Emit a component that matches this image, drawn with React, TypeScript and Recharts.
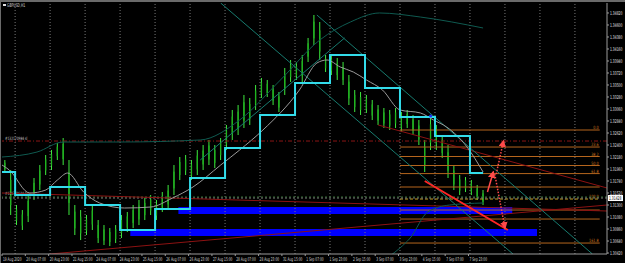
import React from 'react';
import { ComposedChart, Bar, Line, XAxis, YAxis, ReferenceLine, ReferenceArea, ReferenceDot } from 'recharts';

// GBPUSD H1, hours counted from 19 Aug 15:00; one candle per 4 hours
const candleHigh = [
  1.32125, 1.31942, 1.313, 1.31208, 1.31483, 1.31795, 1.32033, 1.32217, 1.32308, 1.32437,
  1.32528, 1.32125, 1.313, 1.31208, 1.31117, 1.313, 1.31025, 1.30933, 1.30878, 1.30933,
  1.31117, 1.31172, 1.313, 1.31392, 1.31428, 1.31483, 1.31392, 1.31538, 1.31667, 1.32033,
  1.3218, 1.32217, 1.32125, 1.32308, 1.324, 1.32492, 1.324, 1.32528, 1.32767, 1.33042,
  1.33133, 1.33317, 1.33262, 1.335, 1.33628, 1.33592, 1.335, 1.33372, 1.33812, 1.33958,
  1.33922, 1.3405, 1.34362, 1.34783, 1.34655, 1.3405, 1.3405, 1.33995, 1.33922, 1.33683,
  1.33408, 1.33372, 1.33317, 1.33225, 1.33133, 1.33078, 1.33042, 1.33078, 1.33005, 1.33042,
  1.3295, 1.32858, 1.32492, 1.32913, 1.32767, 1.32583, 1.324, 1.32033, 1.3185, 1.31813,
  1.31758, 1.31667, 1.31575,
];
const candleLow = [
  1.31905, 1.31117, 1.30933, 1.30842, 1.30988, 1.31392, 1.31575, 1.3185, 1.31942, 1.32125,
  1.32033, 1.31117, 1.3075, 1.30658, 1.3075, 1.30842, 1.30603, 1.30567, 1.30548, 1.30603,
  1.30695, 1.30805, 1.30878, 1.30933, 1.31025, 1.31117, 1.31025, 1.31172, 1.31208, 1.31483,
  1.31758, 1.3185, 1.31758, 1.3185, 1.31942, 1.32033, 1.31978, 1.32125, 1.32308, 1.32492,
  1.32583, 1.32712, 1.32767, 1.33042, 1.33262, 1.3328, 1.33133, 1.33005, 1.33317, 1.33555,
  1.33592, 1.33555, 1.33922, 1.34233, 1.33958, 1.33738, 1.33683, 1.33592, 1.335, 1.33133,
  1.33005, 1.3295, 1.32987, 1.32858, 1.32767, 1.32712, 1.32675, 1.32712, 1.32638, 1.32712,
  1.32583, 1.324, 1.31905, 1.32308, 1.32308, 1.32162, 1.31795, 1.31575, 1.31483, 1.31538,
  1.31483, 1.31392, 1.313,
];

const timeLabels = [
  '19 Aug 2020', '20 Aug 07:00', '20 Aug 23:00', '21 Aug 15:00', '24 Aug 07:00', '24 Aug 23:00',
  '25 Aug 15:00', '26 Aug 07:00', '26 Aug 23:00', '27 Aug 15:00', '28 Aug 07:00', '28 Aug 23:00',
  '31 Aug 15:00', '1 Sep 07:00', '1 Sep 23:00', '2 Sep 15:00', '3 Sep 07:00', '3 Sep 23:00',
  '4 Sep 15:00', '7 Sep 07:00', '7 Sep 23:00',
];
const timeTicks = timeLabels.map((_, i) => i * 16);

const priceTicks = [
  1.3042, 1.3064, 1.3086, 1.3108, 1.313, 1.3152, 1.3174, 1.3196, 1.3218, 1.324, 1.3262,
  1.3284, 1.3306, 1.3328, 1.335, 1.3372, 1.3394, 1.3416, 1.3438, 1.346, 1.3482,
];

// day separators (00:00 of each trading day)
const dayStarts = [9, 33, 57, 81, 105, 129, 153, 177, 201, 225, 249, 273, 297, 321, 345, 369, 393];

// previous-day level (cyan steps)
const levelTimes = [0, 9, 33, 57, 81, 105, 129, 153, 177, 201, 225, 249, 273, 297, 321, 330];
const levelPrices = [
  1.31905, 1.31483, 1.3163, 1.313, 1.30842, 1.31227, 1.31795, 1.32345, 1.3295, 1.33537,
  1.3405, 1.33445, 1.32913, 1.32565, 1.31887, 1.31887,
];

// moving average (grey)
const maTimes = [0, 5, 19, 30, 38, 45, 56, 67, 84, 102, 117, 131, 150, 163, 179, 204, 216, 223, 232, 241, 250, 261, 273, 287, 296, 305, 319, 330];
const maPrices = [
  1.32033, 1.31942, 1.3152, 1.31575, 1.31758, 1.31886, 1.31538, 1.31337, 1.31245, 1.31263,
  1.31428, 1.3163, 1.32033, 1.32308, 1.32675, 1.33408, 1.33903, 1.33958, 1.3383, 1.33738,
  1.33592, 1.33408, 1.33042, 1.32987, 1.32858, 1.3273, 1.32363, 1.31905,
];

// envelope (dark teal)
const upperTimes = [0, 24, 42, 81, 136, 163, 191, 218, 239, 259, 287, 330];
const upperPrices = [1.3218, 1.32271, 1.32455, 1.32455, 1.32492, 1.32858, 1.33592, 1.34325, 1.34655, 1.3482, 1.34746, 1.34545];
const lowerTimes = [266, 273, 280, 292, 307, 330];
const lowerPrices = [1.30365, 1.30512, 1.30695, 1.31172, 1.313, 1.31337];

// trend lines [t1, p1, t2, p2]
const channelLines = [
  [150, 1.35003, 350.5, 1.30402],
  [216, 1.34783, 405, 1.30402],
  [136, 1.32125, 235, 1.34362],
];
const darkRedLines = [
  [258, 1.32767, 415, 1.31612],
  [33, 1.30402, 415, 1.313],
  [0, 1.3152, 415, 1.3119],
];
const redTrend = [290, 1.3174, 347, 1.30842];
const arrowSolid = [333, 1.31538, 337, 1.31905];
const arrowUp = [339, 1.31868, 344, 1.32473];
const arrowDown = [338, 1.31868, 345, 1.30878];

// fibonacci levels
const fibStart = 273;
const fibEnd = 410;
const fibPrices = [1.32675, 1.32363, 1.32189, 1.32024, 1.31876, 1.3163, 1.3141, 1.31208, 1.31043, 1.30603];
const fibLabels = ['0.0', '23.6', '38.2', '50.0', '61.8', '', '100.0', '', '', '161.8'];

// boxes [t1, t2, pTop, pBottom]
const zones = [
  [121, 350, 1.31263, 1.31135],
  [88, 367, 1.3086, 1.30732],
];

const slPrice = 1.32473;
const buyPrice = 1.31447;
const bidPrice = 1.31428;

const candles = candleHigh.map((h, i) => ({ t: 4 * i + 2, high: h, low: candleLow[i] }));
const toSeries = (ts: number[], ps: number[]) => ts.map((t, i) => ({ t, p: ps[i] }));

const FONT = 'DejaVu Sans, sans-serif';

const Candle = (props: any) => {
  const { x, y, width, height } = props;
  if (height == null || isNaN(height)) return null;
  const cx = x + width / 2;
  return (
    <g>
      <rect x={cx - 0.5} y={y} width={1} height={Math.max(height, 1)} fill="#3ee83e" />
      <rect x={x} y={y + height * 0.22} width={width} height={Math.max(height * 0.56, 1)} fill="#1fb51f" />
    </g>
  );
};

// narrow text, like the terminal's condensed small font
const Narrow = ({ x, y, size = 5, sx = 0.6, fill, anchor = 'start', children }: any) => (
  <g transform={`translate(${x},${y}) scale(${sx},1)`}>
    <text x={0} y={0} fontSize={size} fill={fill} textAnchor={anchor} fontFamily={FONT}>
      {children}
    </text>
  </g>
);

const TimeTick = (props: any) => {
  const { x, y, payload } = props;
  const idx = Math.round(payload.value / 16);
  return (
    <Narrow x={x + 1} y={y + 3.2} fill="#d8d8d8" sx={0.58}>
      {timeLabels[idx]}
    </Narrow>
  );
};

const PriceTick = (props: any) => {
  const { x, y, payload } = props;
  return (
    <Narrow x={x} y={y + 1.8} fill="#e0e0e0">
      {Number(payload.value).toFixed(5)}
    </Narrow>
  );
};

const endLabel = (text: string, color: string) => (p: any) => {
  const vb = p.viewBox || {};
  return (
    <Narrow x={vb.x + vb.width - 1} y={vb.y - 1} size={4.5} sx={0.75} fill={color} anchor="end">
      {text}
    </Narrow>
  );
};

const startLabel = (text: string, color: string) => (p: any) => {
  const vb = p.viewBox || {};
  return (
    <Narrow x={vb.x + 3} y={vb.y - 1.5} size={4.5} sx={0.65} fill={color}>
      {text}
    </Narrow>
  );
};

const bidLabel = (p: any) => {
  const vb = p.viewBox || {};
  const x = vb.x + vb.width + 1;
  return (
    <g>
      <rect x={x} y={vb.y - 3} width={15} height={6} fill="#ffffff" />
      <Narrow x={x + 1} y={vb.y + 1.8} fill="#000">
        {bidPrice.toFixed(5)}
      </Narrow>
    </g>
  );
};

const seg = (l: number[]) => [
  { x: l[0], y: l[1] },
  { x: l[2], y: l[3] },
];

export default function App() {
  return (
    <div style={{ position: 'absolute', left: 0, top: 0, width: 625, height: 263, background: '#000', overflow: 'hidden', fontFamily: FONT }}>
      <svg width={0} height={0} style={{ position: 'absolute' }}>
        <defs>
          <marker id="arrowRed" viewBox="0 0 10 10" refX="8" refY="5" markerWidth="5" markerHeight="5" orient="auto">
            <path d="M0,0 L10,5 L0,10 z" fill="#ff4a4a" />
          </marker>
        </defs>
      </svg>
      <div style={{ position: 'absolute', left: 0, top: 0, width: 625, height: 2, background: '#6a6a6a' }} />
      <div style={{ position: 'absolute', left: 0, top: 0, width: 1, height: 263, background: '#6a6a6a' }} />
      <div style={{ position: 'absolute', left: 3, top: 4, width: 3, height: 2, background: '#e0e0e0' }} />
      <svg style={{ position: 'absolute', left: 0, top: 0 }} width={60} height={10}>
        <Narrow x={7} y={7} fill="#d0d0d0" sx={0.62}>
          GBPUSD,H1
        </Narrow>
      </svg>
      <ComposedChart width={625} height={263} data={candles} margin={{ top: 3, right: 0, bottom: 0, left: 2 }}>
        <XAxis
          dataKey="t"
          type="number"
          domain={[0, 415]}
          allowDataOverflow
          ticks={timeTicks}
          interval={0}
          height={9}
          tick={<TimeTick />}
          tickSize={2}
          axisLine={{ stroke: '#9a9a9a' }}
          tickLine={{ stroke: '#9a9a9a' }}
        />
        <YAxis
          orientation="right"
          type="number"
          domain={[1.30402, 1.35003]}
          allowDataOverflow
          ticks={priceTicks}
          interval={0}
          width={18}
          tickSize={2}
          tickMargin={1}
          tick={<PriceTick />}
          axisLine={{ stroke: '#9a9a9a' }}
          tickLine={{ stroke: '#9a9a9a' }}
        />
        {dayStarts.map((d) => (
          <ReferenceLine key={'d' + d} x={d} stroke="#777" strokeDasharray="1 2" ifOverflow="hidden" />
        ))}
        {zones.map((z, i) => (
          <ReferenceArea key={'z' + i} x1={z[0]} x2={z[1]} y1={z[3]} y2={z[2]} fill="#0000ff" fillOpacity={1} stroke="none" ifOverflow="hidden" />
        ))}
        {fibPrices.map((p, i) => (
          <ReferenceLine
            key={'f' + i}
            segment={[{ x: fibStart, y: p }, { x: fibEnd, y: p }]}
            stroke={i === 6 ? '#c8a020' : '#b5651d'}
            strokeDasharray={i === 6 ? '3 2' : undefined}
            ifOverflow="hidden"
            label={fibLabels[i] ? endLabel(fibLabels[i], '#c8741f') : undefined}
          />
        ))}
        <ReferenceLine y={slPrice} stroke="#8a1515" strokeDasharray="4 2 1 2" label={startLabel('#132170984 sl', '#c0c0c0')} />
        <ReferenceLine y={buyPrice} stroke="#2f6f2f" strokeDasharray="2 2" label={startLabel('#131779684 buy', '#c0c0c0')} />
        <ReferenceLine y={bidPrice} stroke="#777" strokeDasharray="2 2" label={bidLabel} />
        {darkRedLines.map((l, i) => (
          <ReferenceLine key={'r' + i} segment={seg(l)} stroke="#8c1212" strokeWidth={1} ifOverflow="hidden" />
        ))}
        {channelLines.map((l, i) => (
          <ReferenceLine key={'c' + i} segment={seg(l)} stroke="#177a6e" strokeWidth={1} ifOverflow="hidden" />
        ))}
        <Line data={toSeries(upperTimes, upperPrices)} dataKey="p" type="monotone" stroke="#0f5a50" strokeWidth={1} dot={false} isAnimationActive={false} />
        <Line data={toSeries(lowerTimes, lowerPrices)} dataKey="p" type="monotone" stroke="#0f5a50" strokeWidth={1} dot={false} isAnimationActive={false} />
        <Bar dataKey={(d: any) => [d.low, d.high]} barSize={4} shape={<Candle />} isAnimationActive={false} />
        <Line data={toSeries(maTimes, maPrices)} dataKey="p" type="monotone" stroke="#9a9a9a" strokeWidth={1} dot={false} isAnimationActive={false} />
        <Line data={toSeries(levelTimes, levelPrices)} dataKey="p" type="stepAfter" stroke="#33dcea" strokeWidth={2} dot={false} isAnimationActive={false} />
        <ReferenceLine segment={seg(redTrend)} stroke="#ff2626" strokeWidth={2} ifOverflow="hidden" />
        <ReferenceLine segment={seg(arrowSolid)} stroke="#ff4a4a" strokeWidth={1.5} markerEnd="url(#arrowRed)" ifOverflow="hidden" />
        <ReferenceLine segment={seg(arrowUp)} stroke="#ff4a4a" strokeWidth={1.5} strokeDasharray="1.5 1.5" markerEnd="url(#arrowRed)" ifOverflow="hidden" />
        <ReferenceLine segment={seg(arrowDown)} stroke="#ff4a4a" strokeWidth={1.5} strokeDasharray="1.5 1.5" markerEnd="url(#arrowRed)" ifOverflow="hidden" />
        <ReferenceDot x={294} y={1.32931} r={1.5} fill="#2233ff" stroke="none" />
      </ComposedChart>
    </div>
  );
}
